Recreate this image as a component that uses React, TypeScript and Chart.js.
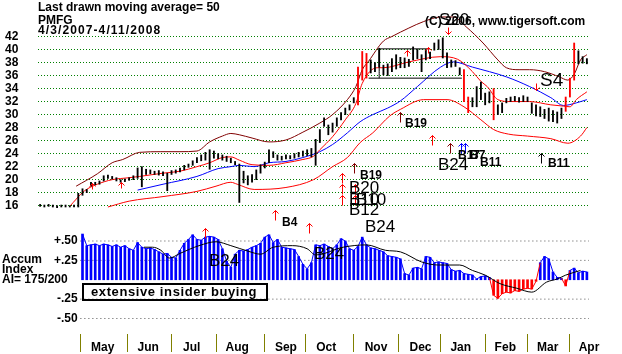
import React, { useEffect, useRef } from "react";
import { Chart, registerables } from "chart.js";

Chart.register(...registerables);

const FONT = "'Liberation Sans', Arial, Helvetica, sans-serif";

// ---------- data (x = trading-day index, 0 = 4/3/2007, 258 = 4/11/2008) ----------
const lastDay = 258;
const sampleStep = 2;

const priceHigh = [
  16.2, 16.1, 16.2, 16.1, 16.0, 16.1, 16.1, 16.0, 16.1, 17.9,
  18.6, 18.5, 19.6, 19.6, 19.8, 20.6, 20.7, 20.5, 20.3, 20.0,
  20.1, 20.3, 20.6, 21.8, 22.0, 21.6, 21.5, 21.3, 21.4, 21.2,
  21.0, 21.4, 21.5, 21.8, 22.2, 22.4, 22.9, 23.4, 23.8, 24.2,
  24.6, 24.4, 24.0, 23.8, 23.6, 23.3, 22.8, 22.4, 21.3, 20.6,
  20.8, 21.5, 22.3, 22.7, 24.6, 24.3, 23.8, 23.6, 23.8, 23.7,
  24.0, 24.2, 24.4, 24.6, 24.8, 26.2, 27.7, 29.5, 28.4, 28.7,
  29.5, 30.3, 31.0, 31.5, 32.6, 37.3, 39.7, 39.4, 38.4, 38.0,
  40.2, 37.6, 37.8, 38.6, 39.2, 38.8, 38.7, 38.5, 40.4, 40.0,
  39.2, 39.9, 39.6, 41.0, 41.5, 41.8, 39.5, 38.4, 38.3, 37.2,
  36.9, 32.7, 32.6, 34.3, 35.0, 33.3, 33.5, 34.0, 31.5, 31.8,
  32.5, 32.7, 32.8, 32.6, 32.9, 32.7, 31.8, 31.5, 31.2, 30.8,
  31.0, 30.6, 30.4, 31.0, 32.7, 35.6, 41.0, 39.8, 38.9, 38.6,
];
const priceLow = [
  15.9, 15.8, 15.9, 15.8, 15.7, 15.8, 15.8, 15.8, 15.8, 15.8,
  17.6, 18.0, 19.0, 19.2, 19.3, 19.8, 20.2, 20.1, 19.8, 19.6,
  19.7, 19.9, 20.0, 20.2, 18.9, 20.8, 20.9, 20.8, 20.7, 20.6,
  18.3, 20.8, 21.0, 21.2, 21.5, 21.9, 22.2, 22.6, 22.9, 23.0,
  21.6, 23.3, 23.2, 23.0, 22.8, 22.6, 22.3, 16.5, 19.5, 19.2,
  19.6, 20.0, 21.0, 21.8, 22.6, 23.4, 23.0, 23.0, 23.2, 23.2,
  23.3, 23.5, 23.6, 23.7, 23.5, 22.2, 25.7, 28.2, 26.9, 27.3,
  28.2, 29.2, 30.0, 30.7, 31.8, 31.5, 35.3, 35.6, 36.4, 36.6,
  37.3, 36.1, 36.0, 36.6, 37.0, 37.2, 37.2, 37.4, 38.4, 38.6,
  36.6, 38.4, 38.6, 39.9, 40.0, 38.7, 37.2, 37.3, 37.4, 36.1,
  32.0, 30.3, 31.2, 31.2, 32.3, 31.5, 31.8, 29.2, 30.0, 30.3,
  31.8, 32.0, 32.1, 31.9, 32.0, 32.0, 30.2, 29.8, 29.7, 29.4,
  29.0, 28.9, 28.7, 29.4, 30.5, 32.7, 35.3, 37.8, 37.9, 37.8,
];
const redBarDays = [150, 152, 154, 200, 202, 214, 248, 250, 252];

// bands / moving averages: [day, price]
const upperBand = [
  [17, 19.0], [27, 20.9], [34, 22.6], [39, 23.1], [47, 24.2], [57, 24.3], [66, 24.3],
  [74, 24.4], [80, 25.8], [86, 26.7], [90, 27.1], [94, 26.9], [100, 26.4], [108, 25.8],
  [116, 26.1], [124, 27.3], [132, 28.7], [138, 30.0], [145, 32.3], [149, 34.3],
  [152, 36.9], [155, 38.2], [162, 41.3], [166, 42.0], [174, 43.3], [181, 44.3],
  [189, 45.0], [195, 45.0], [201, 43.5], [209, 41.0], [216, 38.4], [220, 37.2],
  [226, 36.9], [231, 36.9], [238, 36.6], [245, 35.8], [249, 35.3], [252, 36.2],
  [255, 38.4], [258, 39.2],
];
const middleLine = [
  [14, 15.9], [17, 17.0], [21, 18.3], [27, 19.3], [34, 20.0], [42, 20.3], [47, 20.5],
  [58, 21.0], [66, 21.3], [74, 22.0], [80, 22.6], [86, 23.4], [90, 23.5], [94, 23.0],
  [100, 22.3], [108, 22.2], [116, 22.6], [124, 23.1], [129, 23.6], [132, 24.6],
  [138, 26.6], [144, 29.2], [149, 31.7], [152, 34.8], [159, 37.2], [162, 37.2],
  [174, 38.1], [189, 38.9], [197, 38.5], [204, 36.6], [208, 35.1], [211, 34.3],
  [216, 32.3], [222, 32.0], [231, 32.0], [241, 31.5], [247, 31.3], [250, 31.2],
  [253, 32.3], [258, 33.5],
];
const movingAverage50 = [
  [46, 18.4], [58, 19.3], [74, 20.5], [84, 21.7], [90, 22.0], [94, 22.2], [101, 22.0],
  [108, 22.6], [116, 22.8], [124, 23.4], [132, 24.3], [138, 25.4], [145, 27.2],
  [151, 28.9], [157, 30.0], [164, 31.0], [170, 32.1], [178, 34.3], [189, 37.3],
  [195, 38.1], [204, 37.3], [220, 35.8], [231, 34.3], [241, 32.6], [247, 31.4],
  [253, 31.8], [258, 32.3],
];
const lowerBand = [
  [32, 15.8], [42, 16.7], [58, 17.4], [74, 18.2], [83, 19.0], [90, 19.6], [93, 19.3],
  [101, 18.5], [116, 18.8], [129, 20.0], [138, 22.0], [145, 23.4], [151, 25.7],
  [157, 27.2], [165, 29.8], [170, 30.8], [181, 32.3], [192, 32.3], [200, 31.2],
  [208, 29.2], [214, 27.7], [221, 27.0], [230, 26.7], [241, 26.3], [249, 25.6],
  [255, 26.7], [258, 28.0],
];
const rangeBoxTop = [[160, 40.1], [184, 40.1]];
const rangeBoxBottom = [[155, 35.6], [199, 35.6]];
const rangeBoxLeft = [[160, 35.6], [160, 40.1]];

// accumulation index, every 2nd day from day 20
const accumStartDay = 20;
const accumValues = [
  0.59, 0.44, 0.45, 0.46, 0.44, 0.46, 0.45, 0.43, 0.45, 0.42,
  0.44, 0.40, 0.38, 0.48, 0.42, 0.40, 0.41, 0.39, 0.36, 0.33,
  0.34, 0.29, 0.28, 0.38, 0.47, 0.52, 0.58, 0.52, 0.51, 0.55,
  0.56, 0.55, 0.52, 0.40, 0.24, 0.16, 0.33, 0.38, 0.37, 0.39,
  0.42, 0.44, 0.47, 0.55, 0.58, 0.48, 0.52, 0.42, 0.41, 0.40,
  0.39, 0.30, 0.20, 0.14, 0.22, 0.45, 0.44, 0.46, 0.43, 0.40,
  0.45, 0.53, 0.50, 0.40, 0.38, 0.43, 0.55, 0.45, 0.41, 0.40,
  0.38, 0.36, 0.31, 0.30, 0.29, 0.27, 0.08, 0.06, 0.15, 0.16,
  0.14, 0.30, 0.29, 0.22, 0.23, 0.22, 0.21, 0.13, 0.11, 0.12,
  0.08, 0.07, 0.06, 0.01, 0.04, 0.05, 0.03, -0.20, -0.24, -0.18,
  -0.16, -0.17, -0.14, -0.15, -0.12, -0.11, -0.12, -0.02, 0.22, 0.30,
  0.27, 0.10, 0.03, 0.02, -0.08, 0.12, 0.15, 0.09, 0.11, 0.10,
];
const accumAverage = [
  [49, 0.42], [53, 0.42], [57, 0.38], [61, 0.28], [66, 0.34], [75, 0.44], [83, 0.49],
  [90, 0.44], [98, 0.37], [104, 0.33], [110, 0.42], [119, 0.44], [126, 0.40],
  [130, 0.32], [143, 0.42], [154, 0.45], [163, 0.38], [170, 0.36], [180, 0.23],
  [188, 0.19], [198, 0.19], [204, 0.12], [210, 0.06], [217, -0.05], [225, -0.11],
  [232, -0.16], [239, -0.03], [244, 0.01], [248, 0.06], [255, 0.12],
];

// axes
const priceTicks = [16, 18, 20, 22, 24, 26, 28, 30, 32, 34, 36, 38, 40, 42];
const accumTicks = [0.5, 0.25, -0.25, -0.5];
const accumGridLevels = [0.5, 0.25, -0.25, -0.5];
const monthStarts = [19, 41, 62, 83, 106, 125, 148, 169, 189, 210, 230, 250];
const monthLabelDays = [29.5, 51, 71.5, 93, 116, 135, 158.5, 179.5, 198.5, 219.5, 239.5, 259];
const monthNames = ["May", "Jun", "Jul", "Aug", "Sep", "Oct", "Nov", "Dec", "Jan", "Feb", "Mar", "Apr"];

// signals: [day, value at top of mark]
const upArrowsRed = [
  [110.8, 15.34], [126.9, 13.34], [77.8, 12.57], [184.9, 26.87],
  [142.5, 21.03], [142.5, 19.34], [142.5, 17.65], [148.6, 19.34], [148.6, 17.65],
];
const upArrowsRedSmall = [[173.1, 39.93], [183, 40.39], [24.5, 19.49], [38.2, 19.64]];
const upArrowsDark = [[169.8, 30.4], [193.4, 25.64], [148.1, 22.56]];
const upArrowsBlue = [[198.6, 25.64], [200.5, 25.64]];
const upArrowsBlack = [[236.3, 24.1]];
const downArrowsRed = [[192.5, 43.46], [234, 34.86]];
const smallSignalLabels = [
  [114.2, 14.26, "B4"], [172.2, 29.48, "B19"], [151, 21.49, "B19"], [197.2, 24.56, "B17"],
  [202.8, 24.56, "B7"], [207.5, 23.48, "B11"], [239.6, 23.33, "B11"],
];
const bigSignalLabels = [
  [187.7, 23.33, "B24"], [145.8, 19.8, "B20"], [145.8, 17.95, "B10"], [149.1, 17.95, "B10"],
  [145.8, 16.42, "B12"], [153.3, 13.8, "B24"],
];
const copyrightSignal = [188.2, 45.61, "S20"];
const sellLabels = [[235.8, 36.55, "S4"]];
const accumSignalLabels = [[129.2, 0.42, "B24"], [79.7, 0.33, "B24"]];

const headerLines = ["Last drawn moving average= 50", "PMFG", "4/3/2007-4/11/2008"];
const copyrightText = "(C) 2006, www.tigersoft.com";
const accumTitle = ["Accum", "Index", "AI= 175/200"];
const insiderNote = "extensive insider buying";

// ---------- helpers ----------
const toPts = (arr: any[]) => arr.map((p: any) => ({ x: p[0], y: p[1] }));
const redSet = new Set(redBarDays);
const monthStartSet = new Set(monthStarts);
const labelMap = new Map(monthLabelDays.map((d, i) => [d, monthNames[i]]));
const xTicks = [...monthStarts, ...monthLabelDays].sort((a, b) => a - b);

const zeroPad = (s: any) => {
  s.paddingTop = 0;
  s.paddingBottom = 0;
  s.paddingLeft = 0;
  s.paddingRight = 0;
};

const setSpacing = (ctx: any, v: string) => {
  try {
    ctx.letterSpacing = v;
  } catch (e) {}
};

const annotationPlugin = {
  id: "tigerAnnotations",
  afterDatasetsDraw(chart: any) {
    const { ctx, scales } = chart;
    const X = scales.x;
    const P = scales.y;
    const A = scales.a;
    ctx.save();
    const arrow = (d: number, v: number, sc: any, color: string, len: number, down: boolean) => {
      const x = Math.round(X.getPixelForValue(d)) + 0.5;
      const y = Math.round(sc.getPixelForValue(v)) + 0.5;
      ctx.strokeStyle = color;
      ctx.lineWidth = 1;
      ctx.beginPath();
      ctx.moveTo(x, y);
      ctx.lineTo(x, y + len);
      const tip = down ? y + len : y;
      const dir = down ? -1 : 1;
      ctx.moveTo(x - 3, tip + 3 * dir);
      ctx.lineTo(x, tip);
      ctx.lineTo(x + 3, tip + 3 * dir);
      ctx.stroke();
    };
    upArrowsRed.forEach((p) => arrow(p[0], p[1], P, "#ff0000", 10, false));
    upArrowsRedSmall.forEach((p) => arrow(p[0], p[1], P, "#ff0000", 6, false));
    upArrowsDark.forEach((p) => arrow(p[0], p[1], P, "#800000", 10, false));
    upArrowsBlue.forEach((p) => arrow(p[0], p[1], P, "#0000ff", 10, false));
    upArrowsBlack.forEach((p) => arrow(p[0], p[1], P, "#000000", 10, false));
    downArrowsRed.forEach((p) => arrow(p[0], p[1], P, "#ff0000", 7, true));

    const label = (d: number, v: number, sc: any, text: string, size: number, weight: string) => {
      ctx.font = `${weight} ${size}px ${FONT}`;
      ctx.fillStyle = "#000";
      ctx.textAlign = "left";
      ctx.textBaseline = "alphabetic";
      ctx.fillText(text, Math.round(X.getPixelForValue(d)), Math.round(sc.getPixelForValue(v) + size * 0.716));
    };
    smallSignalLabels.forEach((p: any) => label(p[0], p[1], P, p[2], 12, "bold"));
    bigSignalLabels.forEach((p: any) => label(p[0], p[1], P, p[2], 17, "normal"));
    sellLabels.forEach((p: any) => label(p[0], p[1], P, p[2], 19, "normal"));
    accumSignalLabels.forEach((p: any) => label(p[0], p[1], A, p[2], 17, "normal"));
    ctx.restore();
  },
  afterDraw(chart: any) {
    const { ctx, chartArea, scales } = chart;
    const left = chartArea.left;
    ctx.save();
    ctx.fillStyle = "#000";
    ctx.textAlign = "left";
    ctx.textBaseline = "alphabetic";
    ctx.font = `bold 12px ${FONT}`;
    ctx.fillText(headerLines[0], left, 11);
    ctx.fillText(headerLines[1], left, 24);
    setSpacing(ctx, "1.1px");
    ctx.fillText(headerLines[2], left, 34);
    setSpacing(ctx, "0px");
    ctx.fillText(copyrightText, 425, 25);
    ctx.font = `normal 17px ${FONT}`;
    ctx.fillText(
      copyrightSignal[2] as string,
      Math.round(scales.x.getPixelForValue(copyrightSignal[0])),
      Math.round(scales.y.getPixelForValue(copyrightSignal[1]) + 17 * 0.716)
    );
    ctx.font = `bold 12px ${FONT}`;
    ctx.fillText(accumTitle[0], 2, 263);
    ctx.fillText(accumTitle[1], 2, 273);
    ctx.fillText(accumTitle[2], 2, 283);
    ctx.lineWidth = 2;
    ctx.strokeStyle = "#000";
    ctx.strokeRect(83, 284, 184, 16);
    ctx.font = `bold 13px ${FONT}`;
    setSpacing(ctx, "0.6px");
    ctx.fillText(insiderNote, 91, 296);
    ctx.restore();
  },
};

export default function App() {
  const ref = useRef<HTMLCanvasElement | null>(null);

  useEffect(() => {
    if (!ref.current) return;
    const priceBars = priceHigh.map((h, i) => ({ x: i * sampleStep, y: [priceLow[i], h] }));
    const accumBars = accumValues.map((v, i) => ({ x: accumStartDay + i * sampleStep, y: v }));

    const lineDs = (data: any[], color: string, axis: string, order: number, width = 1) => ({
      type: "line",
      yAxisID: axis,
      data,
      borderColor: color,
      borderWidth: width,
      pointRadius: 0,
      tension: 0.35,
      cubicInterpolationMode: "monotone",
      fill: false,
      order,
    });

    const datasets: any[] = [
      ...accumGridLevels.map((lvl) => ({
        type: "line",
        yAxisID: "a",
        data: [
          { x: accumStartDay - 1, y: lvl },
          { x: lastDay + 1, y: lvl },
        ],
        borderColor: "#555555",
        borderWidth: 1,
        borderDash: [1, 3],
        pointRadius: 0,
        order: 30,
      })),
      {
        type: "bar",
        yAxisID: "a",
        data: accumBars,
        grouped: false,
        barThickness: 2,
        borderWidth: 0,
        backgroundColor: (c: any) => (c.raw && c.raw.y < 0 ? "#ff0000" : "#0000ff"),
        order: 25,
      },
      {
        type: "line",
        yAxisID: "a",
        data: accumBars,
        borderWidth: 1,
        pointRadius: 0,
        borderColor: "#0000ff",
        segment: {
          borderColor: (c: any) => (c.p0.parsed.y < 0 || c.p1.parsed.y < 0 ? "#ff0000" : "#0000ff"),
        },
        order: 24,
      },
      lineDs(toPts(accumAverage), "#000000", "a", 23),
      lineDs(toPts(upperBand), "#800000", "y", 12),
      lineDs(toPts(lowerBand), "#ff0000", "y", 11),
      lineDs(toPts(movingAverage50), "#0000ff", "y", 10),
      lineDs(toPts(middleLine), "#ff0000", "y", 9),
      { ...lineDs(toPts(rangeBoxTop), "#000000", "y", 8), tension: 0 },
      { ...lineDs(toPts(rangeBoxBottom), "#000000", "y", 8), tension: 0 },
      { ...lineDs(toPts(rangeBoxLeft), "#000000", "y", 8), tension: 0 },
      {
        type: "bar",
        yAxisID: "y",
        data: priceBars,
        grouped: false,
        barThickness: 1.2,
        borderWidth: 0,
        backgroundColor: (c: any) => (c.raw && redSet.has(c.raw.x) ? "#ff0000" : "#000000"),
        order: 1,
      },
    ];

    const tickFont = { family: FONT, size: 12, weight: "bold" as any };

    const chart = new Chart(ref.current, {
      type: "bar",
      data: { datasets },
      plugins: [annotationPlugin],
      options: {
        animation: false,
        responsive: false,
        maintainAspectRatio: false,
        devicePixelRatio: 1,
        events: [],
        layout: { padding: { left: 5, right: 33, top: 0, bottom: 0 } },
        plugins: { legend: { display: false }, tooltip: { enabled: false }, title: { display: false } },
        scales: {
          x: {
            type: "linear",
            min: -1,
            max: 259,
            offset: false,
            afterBuildTicks: (s: any) => {
              s.ticks = xTicks.map((v) => ({ value: v }));
            },
            afterFit: (s: any) => {
              s.height = 20;
              zeroPad(s);
            },
            grid: {
              drawOnChartArea: false,
              drawTicks: true,
              tickLength: 18,
              offset: false,
              color: (c: any) => (c.tick && monthStartSet.has(c.tick.value) ? "#808000" : "rgba(0,0,0,0)"),
              lineWidth: 1,
            },
            border: { display: false },
            ticks: {
              autoSkip: false,
              maxRotation: 0,
              minRotation: 0,
              padding: -12,
              color: "#000",
              font: tickFont,
              callback: (v: any) => labelMap.get(v) ?? "",
            },
          },
          y: {
            type: "linear",
            position: "left",
            stack: "panels",
            stackWeight: 230,
            weight: 2,
            min: 12.266,
            max: 47.609,
            afterBuildTicks: (s: any) => {
              s.ticks = priceTicks.map((v) => ({ value: v }));
            },
            afterFit: (s: any) => {
              s.width = 33;
              zeroPad(s);
            },
            grid: { color: "#008000", lineWidth: 1, drawTicks: false },
            border: { display: false, dash: [1, 2] },
            ticks: {
              autoSkip: false,
              crossAlign: "far",
              padding: 0,
              color: "#000",
              font: tickFont,
              callback: (v: any) => String(v),
            },
          },
          a: {
            type: "linear",
            position: "left",
            stack: "panels",
            stackWeight: 104,
            weight: 1,
            min: -0.7,
            max: 0.642,
            afterBuildTicks: (s: any) => {
              s.ticks = accumTicks.map((v) => ({ value: v }));
            },
            afterFit: (s: any) => {
              s.width = 33;
              zeroPad(s);
            },
            grid: { display: false, drawTicks: false },
            border: { display: false },
            ticks: {
              autoSkip: false,
              mirror: true,
              crossAlign: "far",
              padding: 16,
              color: "#000",
              font: tickFont,
              callback: (v: any) => (v > 0 ? "+" : "-") + Math.abs(v).toFixed(2).slice(1),
            },
          },
        },
      } as any,
    } as any);
    return () => chart.destroy();
  }, []);

  return (
    <div style={{ position: "absolute", left: 0, top: 0, width: 622, height: 354, background: "#fff" }}>
      <canvas ref={ref} width={622} height={354} style={{ display: "block", width: 622, height: 354 }} />
    </div>
  );
}
